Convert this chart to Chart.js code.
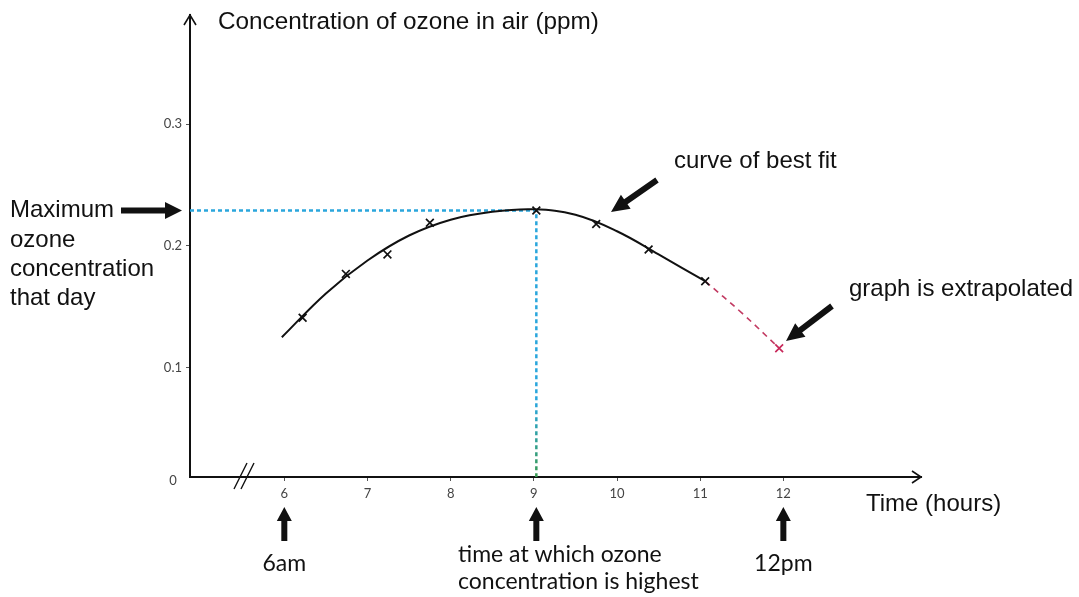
<!DOCTYPE html>
<html>
<head>
<meta charset="utf-8">
<title>Ozone concentration</title>
<script src="https://cdn.jsdelivr.net/npm/chart.js@4.4.1/dist/chart.umd.min.js"></script>
<style>
    html, body { margin: 0; padding: 0; background: #fff; }
    #wrap { width: 1079px; height: 597px; }
</style>
</head>
<body>
<div id="wrap"><canvas id="ozoneChart" width="1079" height="597"></canvas></div>
<script>
// Measured readings (time in hours, ozone in ppm)
const sampleTimes = [6.22, 6.74, 7.24, 7.75, 9.03, 9.75, 10.38, 11.06];
const sampleValues = [0.141, 0.177, 0.193, 0.219, 0.229, 0.218, 0.197, 0.171];

// Extrapolated reading at midday
const extraTimes = [11.95];
const extraValues = [0.116];

// Curve of best fit, drawn by hand through the readings
const fitTimes = [5.97, 6.5, 7.0, 7.5, 8.0, 8.5, 9.0, 9.5, 10.0, 10.5, 11.06];
const fitValues = [0.125, 0.161, 0.188, 0.2085, 0.2215, 0.228, 0.230, 0.2255, 0.212, 0.193, 0.171];

// Dashed extension of the curve
const extTimes = [11.06, 11.5, 11.95];
const extValues = [0.171, 0.145, 0.116];

// Highest reading of the day
const peakTime = 9.03;
const peakValue = 0.229;

const xTicks = [6, 7, 8, 9, 10, 11, 12];
const yTicks = [0.1, 0.2, 0.3];

// axis ranges (x axis has a break before 6)
const X_MIN = 4.866, X_MAX = 13.655;
const Y_MIN = 0.0103, Y_MAX = 0.3895;

const pairs = (xs, ys) => xs.map((x, i) => ({ x: x, y: ys[i] }));

const SANS = '"Liberation Sans", Arial, sans-serif';
const HUMANIST = 'Lato, "Open Sans", sans-serif';

// filled block arrow from (x1,y1) to tip (x2,y2)
function blockArrow(ctx, x1, y1, x2, y2, shaft, headW, headL) {
    const ang = Math.atan2(y2 - y1, x2 - x1);
    const len = Math.hypot(x2 - x1, y2 - y1);
    ctx.save();
    ctx.translate(x1, y1);
    ctx.rotate(ang);
    ctx.beginPath();
    ctx.moveTo(0, -shaft / 2);
    ctx.lineTo(len - headL, -shaft / 2);
    ctx.lineTo(len - headL, -headW / 2);
    ctx.lineTo(len, 0);
    ctx.lineTo(len - headL, headW / 2);
    ctx.lineTo(len - headL, shaft / 2);
    ctx.lineTo(0, shaft / 2);
    ctx.closePath();
    ctx.fillStyle = '#111';
    ctx.fill();
    ctx.restore();
}

function text(ctx, str, x, y, font, align) {
    ctx.font = font;
    ctx.textAlign = align || 'left';
    ctx.textBaseline = 'middle';
    ctx.fillStyle = '#111';
    ctx.fillText(str, x, y);
}

// Arrow heads on the axes, the axis break and the origin label
const axisExtras = {
    id: 'axisExtras',
    afterDraw(chart) {
        const { ctx, chartArea } = chart;
        const left = chartArea.left, bottom = chartArea.bottom;
        ctx.save();
        ctx.strokeStyle = '#111';
        ctx.lineWidth = 1.6;
        // y arrow head
        ctx.beginPath();
        ctx.moveTo(left - 6, chartArea.top + 10);
        ctx.lineTo(left, chartArea.top);
        ctx.lineTo(left + 6, chartArea.top + 10);
        ctx.stroke();
        // x arrow head
        ctx.beginPath();
        ctx.moveTo(chartArea.right - 9, bottom - 6);
        ctx.lineTo(chartArea.right, bottom);
        ctx.lineTo(chartArea.right - 9, bottom + 6);
        ctx.stroke();
        // break marks
        ctx.lineWidth = 1.4;
        ctx.beginPath();
        ctx.moveTo(left + 44, bottom + 12);
        ctx.lineTo(left + 57, bottom - 14);
        ctx.moveTo(left + 51, bottom + 12);
        ctx.lineTo(left + 64, bottom - 14);
        ctx.stroke();
        // origin label
        ctx.font = '13px ' + HUMANIST;
        ctx.fillStyle = '#444';
        ctx.textAlign = 'center';
        ctx.textBaseline = 'middle';
        ctx.fillText('0', left - 17, bottom + 4);
        ctx.restore();
    }
};

// Notes and pointers around the graph
const notes = {
    id: 'notes',
    afterDraw(chart) {
        const { ctx } = chart;
        const xs = chart.scales.x, ys = chart.scales.y;
        const big = '24px ' + SANS;
        const hum = '23px ' + HUMANIST;
        ctx.save();

        text(ctx, 'Concentration of ozone in air (ppm)', 218, 22, '24.3px ' + SANS);

        const peakY = ys.getPixelForValue(peakValue);
        text(ctx, 'Maximum', 10, peakY, big);
        text(ctx, 'ozone', 10, peakY + 30, big);
        text(ctx, 'concentration', 10, peakY + 59, big);
        text(ctx, 'that day', 10, peakY + 88, big);
        blockArrow(ctx, 121, peakY, 182, peakY, 6, 17, 17);

        text(ctx, 'curve of best fit', 674, 161, big);
        blockArrow(ctx, 657, 180, 611, 212, 6, 17, 18);

        text(ctx, 'graph is extrapolated', 849, 289, big);
        blockArrow(ctx, 832, 306, 786, 341, 6, 17, 18);

        text(ctx, 'Time (hours)', 866, 504, big);

        const arrowTop = 507, arrowBase = 541;
        [6, peakTime, 12].forEach(t => {
            const px = xs.getPixelForValue(t);
            blockArrow(ctx, px, arrowBase, px, arrowTop, 6, 15, 14);
        });
        text(ctx, '6am', xs.getPixelForValue(6), 564, hum, 'center');
        text(ctx, '12pm', xs.getPixelForValue(12), 564, hum, 'center');
        text(ctx, 'time at which ozone', 458, 555, hum);
        text(ctx, 'concentration is highest', 458, 582, hum);

        ctx.restore();
    }
};

const peakLine = [
    { x: X_MIN, y: peakValue },
    { x: peakTime, y: peakValue },
    { x: peakTime, y: Y_MIN }
];

new Chart(document.getElementById('ozoneChart'), {
    type: 'scatter',
    data: {
        datasets: [
            {
                label: 'Readings',
                data: pairs(sampleTimes, sampleValues),
                pointStyle: 'crossRot',
                pointRadius: 5.5,
                borderColor: '#111',
                borderWidth: 1.7,
                showLine: false,
                clip: false
            },
            {
                label: 'Extrapolated',
                data: pairs(extraTimes, extraValues),
                pointStyle: 'crossRot',
                pointRadius: 5.5,
                borderColor: '#c8285a',
                borderWidth: 1.7,
                showLine: false,
                clip: false
            },
            {
                label: 'Best fit',
                data: pairs(fitTimes, fitValues),
                showLine: true,
                borderColor: '#111',
                borderWidth: 2,
                pointRadius: 0,
                tension: 0.4,
                clip: false
            },
            {
                label: 'Extension',
                data: pairs(extTimes, extValues),
                showLine: true,
                borderColor: '#c23a62',
                borderWidth: 1.6,
                borderDash: [6, 5],
                pointRadius: 0,
                tension: 0.4,
                clip: false
            },
            {
                label: 'Peak',
                data: peakLine,
                showLine: true,
                borderWidth: 2.5,
                borderDash: [4, 3],
                pointRadius: 0,
                tension: 0,
                clip: false,
                borderColor(context) {
                    const { ctx, chartArea } = context.chart;
                    if (!chartArea) return '#2aa6dc';
                    const g = ctx.createLinearGradient(0, chartArea.top, 0, chartArea.bottom);
                    g.addColorStop(0, '#2aa6dc');
                    g.addColorStop(0.84, '#2aa6dc');
                    g.addColorStop(1, '#3a9a52');
                    return g;
                }
            }
        ]
    },
    options: {
        responsive: false,
        animation: false,
        events: [],
        layout: { padding: { top: 15, right: 158, left: 0, bottom: 0 } },
        plugins: {
            legend: { display: false },
            tooltip: { enabled: false }
        },
        scales: {
            x: {
                type: 'linear',
                min: X_MIN,
                max: X_MAX,
                afterBuildTicks(scale) {
                    scale.ticks = xTicks.map(v => ({ value: v }));
                },
                afterFit(scale) { scale.height = 120; },
                grid: { display: true, drawOnChartArea: false, tickLength: 4, color: '#555', lineWidth: 1 },
                border: { display: true, color: '#111', width: 2 },
                ticks: {
                    padding: 5,
                    color: '#444',
                    font: { family: HUMANIST, size: 13 },
                    callback: v => String(v)
                }
            },
            y: {
                type: 'linear',
                min: Y_MIN,
                max: Y_MAX,
                afterBuildTicks(scale) {
                    scale.ticks = yTicks.map(v => ({ value: v }));
                },
                afterFit(scale) { scale.width = 190; },
                grid: { display: true, drawOnChartArea: false, tickLength: 4, color: '#555', lineWidth: 1 },
                border: { display: true, color: '#111', width: 2 },
                ticks: {
                    padding: 4,
                    color: '#444',
                    font: { family: HUMANIST, size: 13 },
                    callback: v => v.toFixed(1)
                }
            }
        }
    },
    plugins: [axisExtras, notes]
});
</script>
</body>
</html>
